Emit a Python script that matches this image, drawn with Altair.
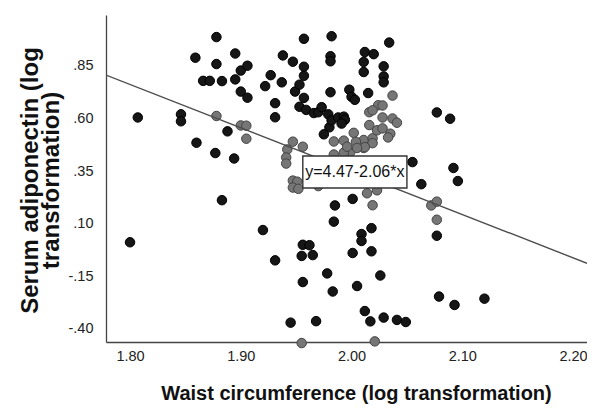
import altair as alt
import pandas as pd

# ---- data ----
black_x = [1.807, 1.846, 1.846, 1.859, 1.860, 1.866, 1.872, 1.878, 1.878, 1.877,
           1.883, 1.888, 1.895, 1.895, 1.894, 1.900, 1.900, 1.906, 1.906, 1.922,
           1.927, 1.931, 1.931, 1.938, 1.937, 1.947, 1.949, 1.953, 1.953, 1.957,
           1.957, 1.957, 1.957, 1.959, 1.966, 1.970, 1.973, 1.979, 1.982, 1.981,
           1.981, 1.981, 1.980, 1.975, 1.982, 1.988, 1.993, 1.994, 1.991, 1.998,
           2.000, 2.003, 2.012, 2.020, 2.011, 2.011, 2.015, 2.029, 2.029, 2.029,
           2.034, 2.077, 2.089, 2.055, 2.092, 2.096, 2.063, 1.883, 1.920, 1.800,
           1.931, 1.956, 1.962, 1.955, 1.965, 1.978, 1.956, 1.985, 1.984, 2.001,
           2.009, 2.009, 2.018, 2.001, 2.018, 2.026, 1.983, 2.005, 2.077, 2.079,
           2.093, 2.120, 1.945, 1.968, 2.012, 2.017, 2.029, 2.041, 2.049]
black_y = [0.605, 0.620, 0.587, 0.889, 0.485, 0.779, 0.779, 0.987, 0.859, 0.436,
           0.778, 0.539, 0.909, 0.786, 0.410, 0.828, 0.728, 0.851, 0.699, 0.754,
           0.806, 0.673, 0.606, 0.900, 0.772, 0.870, 0.728, 0.761, 0.656, 0.979,
           0.846, 0.803, 0.698, 0.641, 0.626, 0.630, 0.654, 0.620, 0.991, 0.896,
           0.872, 0.725, 0.558, 0.525, 0.591, 0.605, 0.609, 0.594, 0.576, 0.737,
           0.703, 0.689, 0.916, 0.906, 0.869, 0.821, 0.721, 0.848, 0.800, 0.772,
           0.961, 0.629, 0.599, 0.393, 0.365, 0.303, 0.288, 0.212, 0.070, 0.012,
           -0.074, 0.000, -0.002, -0.053, -0.049, -0.136, -0.177, 0.187, 0.110, 0.218,
           0.051, 0.018, 0.079, -0.039, -0.031, -0.146, -0.222, -0.196, 0.043, -0.246,
           -0.286, -0.256, -0.370, -0.363, -0.315, -0.364, -0.346, -0.357, -0.367]

gray_x = [1.878, 1.900, 1.905, 1.905, 1.947, 1.942, 1.956, 1.941, 1.941, 1.947,
          1.951, 1.947, 1.952, 1.970, 1.984, 1.993, 1.999, 1.984, 1.993, 2.002,
          2.011, 2.011, 2.019, 2.019, 2.016, 2.024, 2.028, 2.028, 2.037, 2.041,
          2.016, 2.023, 2.028, 2.035, 2.033, 2.037, 2.019, 2.004, 1.996, 2.012,
          2.014, 2.023, 2.019, 2.072, 2.077, 2.077, 1.955, 2.021, 2.005]
gray_y = [0.612, 0.567, 0.566, 0.504, 0.490, 0.453, 0.466, 0.415, 0.386, 0.305,
          0.300, 0.272, 0.266, 0.279, 0.491, 0.495, 0.442, 0.429, 0.438, 0.532,
          0.498, 0.460, 0.506, 0.483, 0.630, 0.663, 0.662, 0.605, 0.600, 0.580,
          0.569, 0.544, 0.553, 0.528, 0.510, 0.709, 0.639, 0.489, 0.466, 0.464,
          0.245, 0.259, 0.188, 0.187, 0.205, 0.119, -0.467, -0.459, 0.460]

x_tick_values = [1.80, 1.90, 2.00, 2.10, 2.20]
y_tick_values = [-0.40, -0.15, 0.10, 0.35, 0.60, 0.85]
x_domain = [1.7783, 2.2126]
y_domain = [-0.462, 1.092]

fit_intercept = 4.47
fit_slope = -2.06
equation_text = "y=4.47-2.06*x"
box_x = [1.956, 2.050]
box_y = [0.270, 0.422]

x_title = "Waist circumference (log transformation)"
y_title = ["Serum adiponectin (log", "transformation)"]

# ---- tables ----
points = pd.DataFrame({
    "x": black_x + gray_x,
    "y": black_y + gray_y,
    "group": ["black"] * len(black_x) + ["gray"] * len(gray_x),
})
fit = pd.DataFrame({"x": x_domain, "y": [fit_intercept + fit_slope * v for v in x_domain]})
box = pd.DataFrame({"x": [box_x[0]], "x2": [box_x[1]], "y": [box_y[0]], "y2": [box_y[1]]})
label = pd.DataFrame({"x": [(box_x[0] + box_x[1]) / 2], "y": [(box_y[0] + box_y[1]) / 2],
                      "label": [equation_text]})

label_font = "Liberation Sans, Arial, sans-serif"
title_font = "Liberation Sans, Arial, sans-serif"

xscale = alt.Scale(domain=x_domain, nice=False, zero=False)
yscale = alt.Scale(domain=y_domain, nice=False, zero=False)

x_axis = alt.Axis(values=x_tick_values, format=".2f", title=x_title, grid=False, ticks=False,
                  domainColor="#444444", domainWidth=1.3, labelFont=label_font, labelFontSize=14.5,
                  labelColor="#222222", labelPadding=7, labelFlush=False,
                  titleFont=title_font, titleFontWeight="bold", titleFontSize=20, titleColor="#111111",
                  titleX=250, titleY=57, titleAlign="center", titleBaseline="alphabetic")
y_axis = alt.Axis(values=y_tick_values,
                  labelExpr="datum.value < 0 ? '-' + substring(format(-datum.value, '.2f'), 1) : substring(format(datum.value, '.2f'), 1)",
                  title=y_title, grid=False, ticks=False,
                  domainColor="#444444", domainWidth=1.3, labelFont=label_font, labelFontSize=14.5,
                  labelColor="#222222", labelPadding=13,
                  titleFont=title_font, titleFontWeight="bold", titleFontSize=24, titleColor="#111111",
                  titleX=-76, titleY=165, titleAlign="center", titleBaseline="middle", titleLineHeight=21)

pts = alt.Chart(points).mark_point(shape="circle", filled=True, size=90, strokeWidth=1, opacity=1).encode(
    x=alt.X("x:Q", scale=xscale, axis=x_axis),
    y=alt.Y("y:Q", scale=yscale, axis=y_axis),
    fill=alt.Fill("group:N", scale=alt.Scale(domain=["black", "gray"], range=["#161616", "#767676"]), legend=None),
    stroke=alt.Stroke("group:N", scale=alt.Scale(domain=["black", "gray"], range=["#000000", "#444444"]), legend=None),
)

line = alt.Chart(fit).mark_line(color="#4d4d4d", strokeWidth=1.4, clip=True).encode(
    x=alt.X("x:Q", scale=xscale), y=alt.Y("y:Q", scale=yscale))

rect = alt.Chart(box).mark_rect(fill="white", stroke="#333333", strokeWidth=1.4).encode(
    x=alt.X("x:Q", scale=xscale), x2="x2", y=alt.Y("y:Q", scale=yscale), y2="y2")

text = alt.Chart(label).mark_text(font=label_font, fontSize=16, color="#111111").encode(
    x=alt.X("x:Q", scale=xscale), y=alt.Y("y:Q", scale=yscale), text="label:N")

chart = alt.layer(pts, line, rect, text).properties(
    width=481, height=327,
    padding={"left": 98, "top": 7, "right": 0, "bottom": 62},
    autosize=alt.AutoSizeParams(type="none"),
    background="white",
).configure_view(stroke=None)

chart.save("out.html", embed_options={"renderer": "svg", "actions": False})
